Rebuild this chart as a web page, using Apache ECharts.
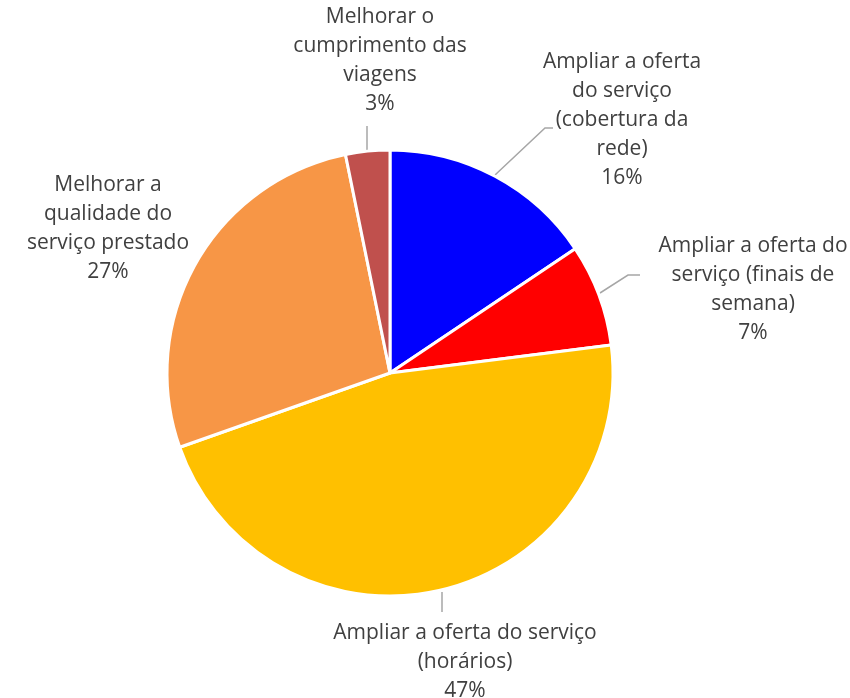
<!DOCTYPE html>
<html>
<head>
<meta charset="utf-8">
<script src="https://cdn.jsdelivr.net/npm/echarts@6/dist/echarts.min.js"></script>
<style>
  html, body { margin: 0; padding: 0; background: #fff; }
  #chart { width: 850px; height: 698px; }
</style>
</head>
<body>
<div id="chart"></div>
<script>
// slices, clockwise from 12 o'clock
let names = [
	'Ampliar a oferta do serviço (cobertura da rede)',
	'Ampliar a oferta do serviço (finais de semana)',
	'Ampliar a oferta do serviço (horários)',
	'Melhorar a qualidade do serviço prestado',
	'Melhorar o cumprimento das viagens'
];
let labelTexts = [
	'Ampliar a oferta\ndo serviço\n(cobertura da\nrede)',
	'Ampliar a oferta do\nserviço (finais de\nsemana)',
	'Ampliar a oferta do serviço\n(horários)',
	'Melhorar a\nqualidade do\nserviço prestado',
	'Melhorar o\ncumprimento das\nviagens'
];
let values = [15.6, 7.4, 46.6, 27.2, 3.2];
let colors = ['#0000FF', '#FF0000', '#FFC000', '#F79646', '#C0504D'];

// where each label sits (center x, top y) and its leader line
let labelPos = [
	{ x: 622, y: 48, line: [[495, 175], [545, 128], [553, 128]] },
	{ x: 753, y: 232, line: [[600, 293], [628, 275], [640, 275]] },
	{ x: 465, y: 619, line: [[442, 592], [442, 592], [442, 612]] },
	{ x: 108, y: 171, line: null },
	{ x: 380, y: 3, line: [[367, 150], [367, 150], [367, 126]] }
];

let chart = echarts.init(document.getElementById('chart'));

let pieData = names.map((n, i) => ({
	name: n,
	value: values[i],
	itemStyle: { color: colors[i] },
	labelLine: { show: labelPos[i].line !== null }
}));

let option = {
	animation: false,
	series: [{
		type: 'pie',
		center: [390, 373],
		radius: 223,
		startAngle: 90,
		clockwise: true,
		percentPrecision: 0,
		itemStyle: { borderColor: '#fff', borderWidth: 3 },
		label: {
			show: true,
			position: 'outside',
			formatter: function(p) {
				return labelTexts[p.dataIndex] + '\n' + p.percent + '%';
			},
			fontFamily: 'Open Sans',
			fontSize: 21,
			lineHeight: 29,
			color: '#404040',
			align: 'center',
			overflow: 'none'
		},
		labelLine: {
			show: true,
			lineStyle: { color: '#A6A6A6', width: 1.5 }
		},
		labelLayout: function(params) {
			let lp = labelPos[params.dataIndex];
			let res = {
				x: lp.x,
				y: lp.y,
				align: 'center',
				verticalAlign: 'top',
				hideOverlap: false,
				moveOverlap: null
			};
			if (lp.line) res.labelLinePoints = lp.line;
			return res;
		},
		data: pieData
	}]
};

chart.setOption(option);
</script>
</body>
</html>
